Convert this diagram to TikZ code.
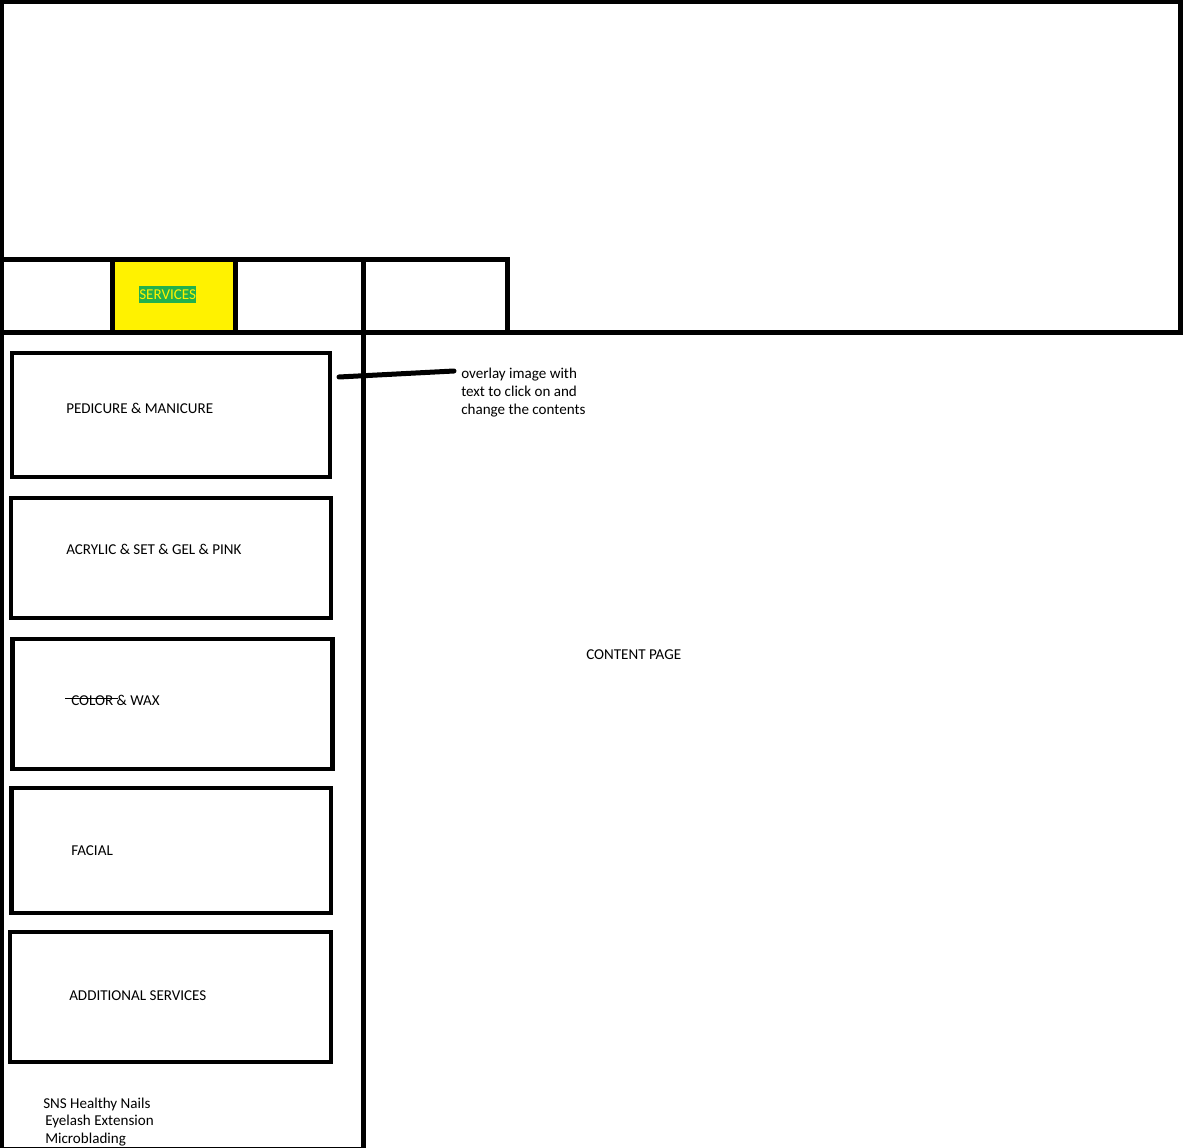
\documentclass[tikz,border=0pt]{standalone}
\usepackage{fontspec}
\setmainfont{Carlito}
\usetikzlibrary{positioning}
\definecolor{tabyellow}{RGB}{255,242,0}
\definecolor{hlgreen}{RGB}{34,177,76}

\begin{document}
\begin{tikzpicture}[x=0.75pt,y=0.75pt]
	\tikzstyle{every node}+=[inner sep=0pt, font=\fontsize{11.3}{13.5}\selectfont]
	\tikzstyle{frame}=[black, line width=3.75pt]
	\tikzstyle{menubox}=[draw=black, line width=3.25pt, rectangle]
	\tikzstyle{menutext}=[anchor=base west]
	\useasboundingbox (0,0) rectangle (1183,-1148);
	% header and tab row
	\draw [frame] (1.5,-2) rectangle (1180.5,-332.5);
	\filldraw [frame, fill=tabyellow] (112.5,-259.5) rectangle (235,-332.5);
	\draw [frame] (0,-259.5) -- (507.5,-259.5) -- (507.5,-332.5);
	\node [fill=hlgreen, text=tabyellow, text height=9.75pt, text depth=3pt, anchor=base west] (services) at (139,-299.5) {SERVICES\hspace{5.5pt}};
	% side menu
	\draw [frame] (363.5,-259.5) -- (363.5,-1152);
	\draw [frame] (1.5,-330) -- (1.5,-1149.5) -- (363.5,-1149.5);
	\node [menubox, minimum width=238.5pt, minimum height=93pt] (pedibox) at (171,-415) {};
	\node [menubox, minimum width=240pt, minimum height=90pt] (acrybox) at (171,-558) {};
	\node [menubox, minimum width=240pt, minimum height=97.5pt] (colorbox) at (172.5,-704) {};
	\node [menubox, minimum width=239.6pt, minimum height=93.75pt] (facialbox) at (171.25,-850.5) {};
	\node [menubox, minimum width=240.75pt, minimum height=97.5pt] (addbox) at (170.5,-997) {};
	\node [menutext] (pedi) at (66,-414) {PEDICURE \& MANICURE};
	\node [menutext] (acry) at (66,-554) {ACRYLIC \& SET \& GEL \& PINK};
	\node [menutext] (colorwax) at (71,-705) {COLOR \& WAX};
	\draw [black, line width=0.75pt] (65,-698.5) -- (118,-698.5);
	\node [menutext] (facial) at (71,-855) {FACIAL};
	\node [menutext] (additional) at (69,-1000) {ADDITIONAL SERVICES};
	\node [menutext] (sns) at (43,-1108) {SNS Healthy Nails};
	\node [menutext] (eyelash) at (45,-1125) {Eyelash Extension};
	\node [menutext] (microblading) at (45,-1143) {Microblading};
	% note and content area
	\node [menutext] (overlayA) at (461,-379) {overlay image with};
	\node [menutext] (overlayB) at (461,-397) {text to click on and};
	\node [menutext] (overlayC) at (461,-415) {change the contents};
	\coordinate (notestart) at (339,-377);
	\coordinate (noteend) at (454,-371);
	\draw [black, line width=3.75pt, line cap=round] (notestart) -- (noteend);
	\node [menutext] (content) at (586,-659) {CONTENT PAGE};
\end{tikzpicture}
\end{document}
